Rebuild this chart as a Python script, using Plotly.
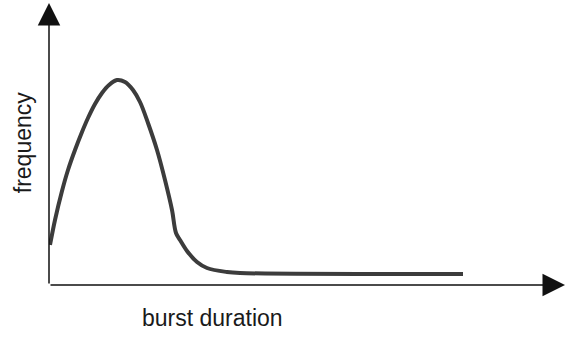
import plotly.graph_objects as go

# Curve (burst duration vs frequency), arbitrary units
duration = [1, 6, 13, 19, 26, 33, 39, 46, 53, 60, 68, 76, 84, 91, 99, 108, 116, 123, 127, 131, 138, 148, 158, 178, 191, 414]
frequency = [40, 65, 94, 115, 135, 153, 167, 181, 192, 200, 205, 203, 195, 183, 162, 135, 105, 75, 52, 45, 34, 23, 17, 13, 12, 11]

x_label = "burst duration"
y_label = "frequency"

X_MAX = 516
Y_MAX = 282

fig = go.Figure()
fig.add_trace(go.Scatter(
    x=duration, y=frequency, mode="lines",
    line=dict(color="#3c3c3c", width=4, shape="spline", smoothing=1.0),
    hoverinfo="skip", showlegend=False,
))

axis_common = dict(visible=False, fixedrange=True)
fig.update_layout(
    width=571, height=340,
    margin=dict(l=49, r=6, t=3, b=55),
    paper_bgcolor="white", plot_bgcolor="white",
    xaxis=dict(range=[0, X_MAX], **axis_common),
    yaxis=dict(range=[0, Y_MAX], **axis_common),
    font=dict(family="Liberation Sans, Arial, sans-serif", color="#1a1a1a"),
)

# Axis arrows
arrow_style = dict(showarrow=True, arrowhead=2, arrowsize=3, arrowwidth=1.5,
                   arrowcolor="#111111", standoff=0, startstandoff=0, text="",
                   xref="x", yref="y", axref="x", ayref="y")
fig.add_annotation(x=X_MAX, y=0, ax=0, ay=0, **arrow_style)
fig.add_annotation(x=0, y=Y_MAX, ax=0, ay=0, **arrow_style)

# Axis labels
fig.add_annotation(text=x_label, xref="paper", yref="paper", x=0.316, y=-0.117,
                   showarrow=False, font=dict(size=23), xanchor="center", yanchor="middle")
fig.add_annotation(text=y_label, xref="paper", yref="paper", x=-0.05, y=0.507,
                   showarrow=False, font=dict(size=23), textangle=-90,
                   xanchor="center", yanchor="middle")

fig.write_html("out.html")
